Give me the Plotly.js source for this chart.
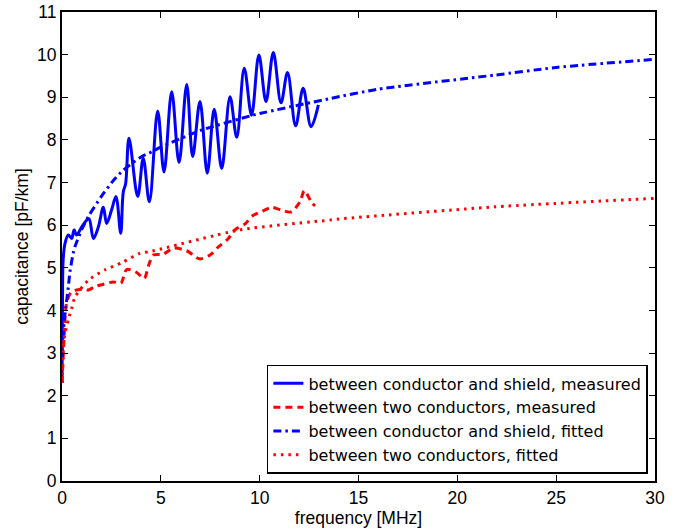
<!DOCTYPE html>
<html>
<head>
<meta charset="utf-8">
<script src="https://cdn.plot.ly/plotly-3.0.1.min.js"></script>
<style>html,body{margin:0;padding:0;background:#fff;}#chart{width:678px;height:529px;}</style>
</head>
<body>
<div id="chart"></div>
<script>
// Measured: between conductor and shield
const shieldMeasF = [0.0, 0.03, 0.06, 0.15, 0.32, 0.49, 0.61, 0.74, 1.0, 1.25, 1.37, 1.59, 1.84, 2.09, 2.26, 2.51, 2.73, 2.97, 3.1, 3.22, 3.39, 3.83, 4.11, 4.42, 4.84, 5.16, 5.55, 5.92, 6.31, 6.61, 6.98, 7.35, 7.70, 8.08, 8.5, 8.84, 9.22, 9.59, 9.96, 10.32, 10.69, 11.08, 11.41, 11.82, 12.2, 12.6, 12.97];
const shieldMeasC = [2.3, 4.6, 5.2, 5.57, 5.77, 5.69, 5.89, 5.77, 5.96, 6.12, 6.15, 5.69, 5.96, 6.42, 6.04, 6.36, 6.67, 5.81, 6.78, 6.98, 8.04, 6.67, 7.57, 6.55, 8.68, 7.25, 9.13, 7.47, 9.30, 7.61, 8.90, 7.22, 8.72, 7.33, 9.01, 8.06, 9.68, 8.58, 9.99, 8.90, 10.05, 8.87, 9.58, 8.33, 9.21, 8.31, 8.82];

// Measured: between two conductors
const twoMeasF = [0.0, 0.07, 0.15, 0.24, 0.49, 1.08, 1.33, 1.67, 2.14, 2.6, 2.98, 3.27, 3.78, 4.16, 4.37, 4.62, 5.12, 5.63, 6.31, 6.95, 7.49, 7.91, 8.38, 8.8, 9.26, 9.64, 10.15, 10.6, 11.06, 11.58, 12.04, 12.26, 12.63, 12.8];
const twoMeasC = [2.3, 3.0, 3.78, 4.2, 4.44, 4.5, 4.48, 4.56, 4.62, 4.67, 4.64, 4.96, 4.89, 4.75, 5.04, 5.30, 5.32, 5.46, 5.40, 5.21, 5.30, 5.49, 5.67, 5.91, 6.03, 6.22, 6.33, 6.42, 6.36, 6.31, 6.55, 6.81, 6.53, 6.45];

// Fitted: between conductor and shield
const shieldFitF = [0.02, 0.05, 0.1, 0.2, 0.32, 0.4, 0.57, 0.66, 1.0, 1.33, 2.0, 2.6, 3.1, 4.0, 4.54, 5.0, 7.0, 9.5, 10.0, 13.56, 16.0, 21.9, 25.0, 30.0];
const shieldFitC = [2.9, 3.3, 3.7, 4.1, 4.55, 4.9, 5.35, 5.5, 5.9, 6.2, 6.68, 7.05, 7.29, 7.6, 7.72, 7.83, 8.22, 8.56, 8.62, 8.97, 9.19, 9.52, 9.70, 9.89];

// Fitted: between two conductors
const twoFitF = [0.01, 0.07, 0.15, 0.32, 0.49, 0.66, 1.33, 2.17, 3.02, 3.95, 4.45, 9.0, 13.56, 13.9, 21.9, 30.0];
const twoFitC = [2.3, 3.15, 3.46, 3.78, 4.05, 4.32, 4.71, 4.95, 5.12, 5.34, 5.38, 5.89, 6.12, 6.14, 6.43, 6.63];

const xTicks = [0, 5, 10, 15, 20, 25, 30];
const yTicks = [0, 1, 2, 3, 4, 5, 6, 7, 8, 9, 10, 11];

const names = [
  'between conductor and shield, measured',
  'between two conductors, measured',
  'between conductor and shield, fitted',
  'between two conductors, fitted'
];

const FONT = 'Liberation Sans, Arial, Helvetica, sans-serif';
const LEGFONT = 'DejaVu Sans, Liberation Sans, sans-serif';

const traces = [
  {x: shieldMeasF, y: shieldMeasC, name: names[0], type: 'scatter', mode: 'lines',
   line: {color: '#0000ff', width: 3, shape: 'spline', smoothing: 1}},
  {x: twoMeasF, y: twoMeasC, name: names[1], type: 'scatter', mode: 'lines',
   line: {color: '#ff0000', width: 3, dash: '7px,5px', shape: 'spline', smoothing: 0.8}},
  {x: shieldFitF, y: shieldFitC, name: names[2], type: 'scatter', mode: 'lines',
   line: {color: '#0000ff', width: 3, dash: '8px,4px,2.5px,4px', shape: 'spline', smoothing: 0.6}},
  {x: twoFitF, y: twoFitC, name: names[3], type: 'scatter', mode: 'lines',
   line: {color: '#ff0000', width: 3, dash: '2.5px,5px', shape: 'spline', smoothing: 0.6}}
];

const axisCommon = {
  showgrid: false, zeroline: false, showline: true, linecolor: '#000', linewidth: 2,
  mirror: 'ticks', ticks: 'inside', ticklen: 6, tickcolor: '#000', tickwidth: 1,
  tickfont: {family: FONT, size: 17.5, color: '#000'}
};

const layout = {
  width: 678, height: 529,
  margin: {l: 62, r: 23, t: 12, b: 48},
  paper_bgcolor: '#fff', plot_bgcolor: '#fff',
  showlegend: true,
  legend: {x: 0.988, y: 0.015, xanchor: 'right', yanchor: 'bottom',
    bgcolor: '#fff', bordercolor: '#000', borderwidth: 1.5,
    font: {family: LEGFONT, size: 16, color: '#000'},
    tracegroupgap: 0, itemwidth: 30},
  xaxis: Object.assign({}, axisCommon, {range: [0, 30], tickvals: xTicks, ticktext: xTicks.map(String),
    title: {text: 'frequency [MHz]', standoff: 2, font: {family: FONT, size: 17.5, color: '#000'}}}),
  yaxis: Object.assign({}, axisCommon, {range: [0, 11], tickvals: yTicks, ticktext: yTicks.map(String),
    title: {text: 'capacitance [pF/km]', standoff: 4, font: {family: FONT, size: 17.5, color: '#000'}}})
};

Plotly.newPlot('chart', traces, layout, {displayModeBar: false, staticPlot: true});
</script>
</body>
</html>
